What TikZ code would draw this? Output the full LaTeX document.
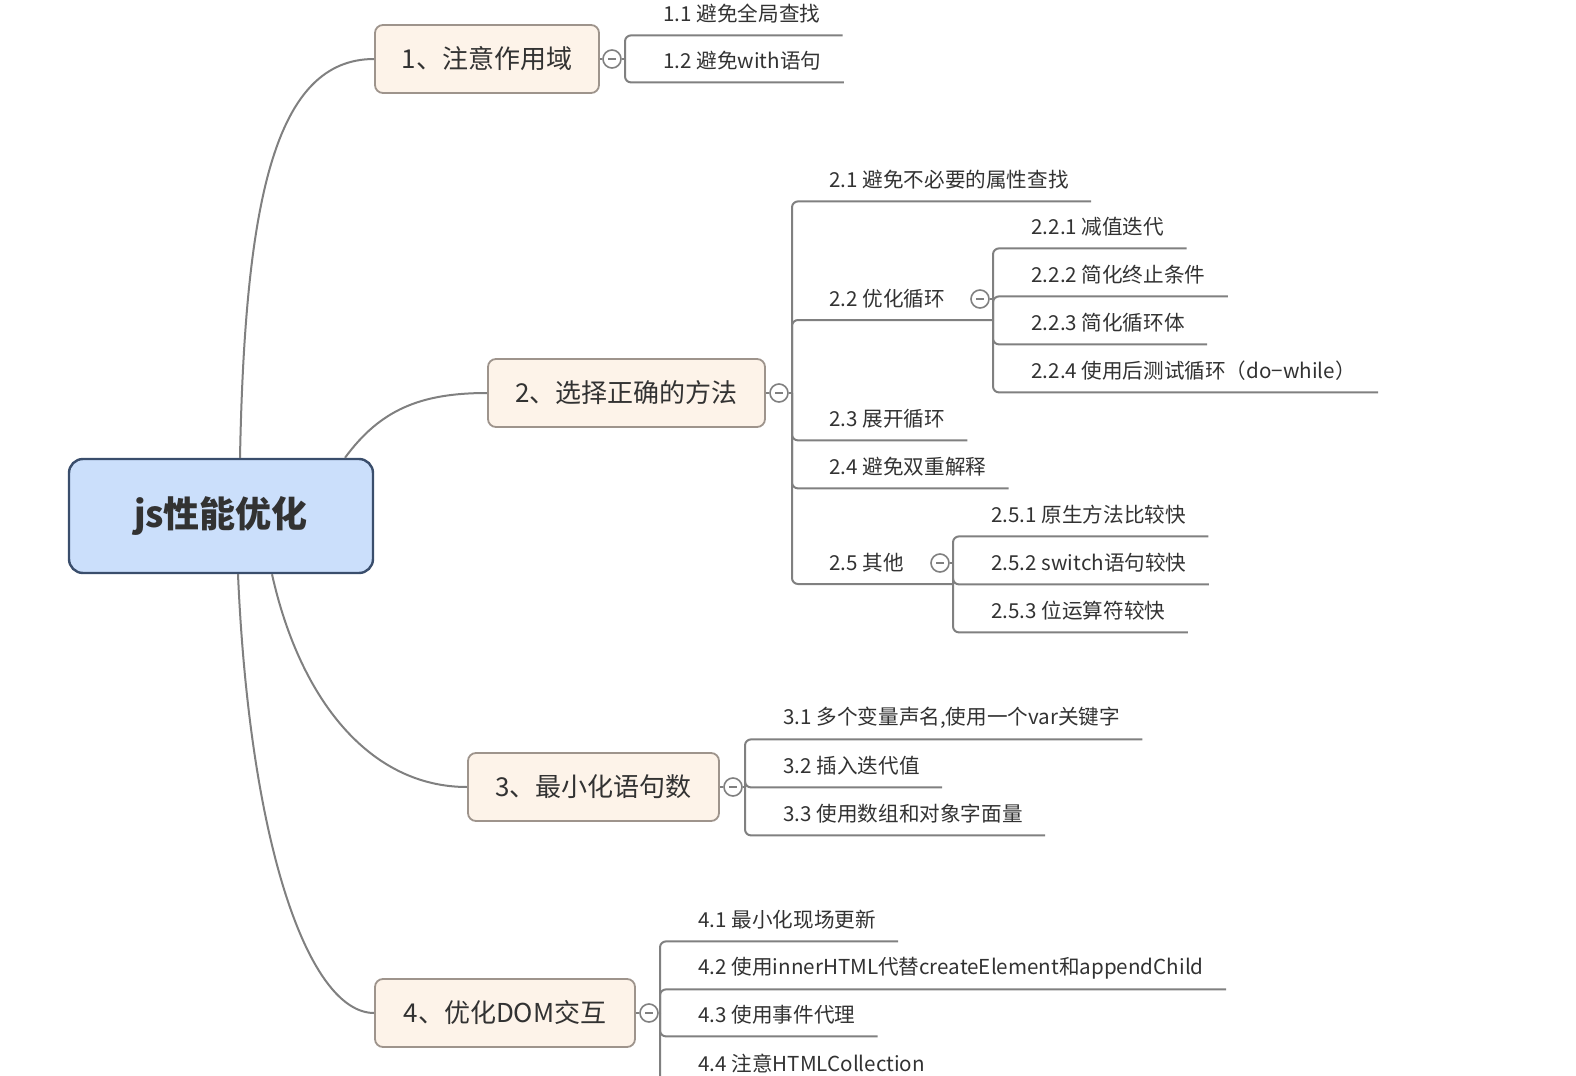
\documentclass[tikz,border=0pt]{standalone}
\usepackage{fontspec}
\setmainfont{Noto Sans CJK SC}
\usetikzlibrary{positioning, calc}
\definecolor{MapBlue}{RGB}{203, 223, 251}
\definecolor{MapNavy}{RGB}{58, 78, 108}
\definecolor{MapCream}{RGB}{253, 243, 233}
\definecolor{MapBorder}{RGB}{158, 148, 140}
\definecolor{MapLine}{RGB}{128, 128, 128}
\definecolor{MapText}{RGB}{50, 50, 50}
\tikzset{
  rootbox/.style={draw=MapNavy, line width=1.2pt, fill=MapBlue, rounded corners=7pt, minimum width=152pt, minimum height=57pt, text=MapText, font=\fontsize{18}{20}\selectfont\bfseries},
  topicbox/.style={draw=MapBorder, line width=0.9pt, fill=MapCream, rounded corners=4pt, minimum height=34pt, text=MapText, font=\fontsize{13}{15}\selectfont},
  leaf/.style={anchor=west, inner xsep=0pt, inner ysep=0pt, minimum height=21pt, text=MapText, font=\fontsize{10.3}{12}\selectfont},
  branch/.style={draw=MapLine, line width=1pt, rounded corners=3pt},
  fold/.style={circle, draw=MapLine, line width=0.8pt, fill=white, minimum size=9pt, inner sep=0pt,
    path picture={\draw[MapLine, line width=0.6pt] ([xshift=-1.8pt]path picture bounding box.center) -- ([xshift=1.8pt]path picture bounding box.center);}}
}

\begin{document}
\begin{tikzpicture}[x=0.5pt, y=-0.5pt]
    \useasboundingbox (0,0) rectangle (1576,1076);
    \clip (0,0) rectangle (1576,1076);

    \node[rootbox] (root) at (221,516) {js性能优化};
    \node[topicbox, minimum width=112pt] (t1) at (487,59) {1、注意作用域};
    \node[topicbox, minimum width=138.5pt] (t2) at (626.5,393) {2、选择正确的方法};
    \node[topicbox, minimum width=125.5pt] (t3) at (593.5,787) {3、最小化语句数};
    \node[topicbox, minimum width=130pt] (t4) at (505,1013) {4、优化DOM交互};

    \draw[branch] ([xshift=9.5pt]root.north) .. controls (245,200) and (275,59) .. (t1.west);
    \draw[branch] ([xshift=62pt]root.north) .. controls (380,410) and (420,393) .. (t2.west);
    \draw[branch] ([xshift=25.5pt]root.south) .. controls (300,700) and (370,787) .. (t3.west);
    \draw[branch] ([xshift=8.5pt]root.south) .. controls (250,850) and (310,1013) .. (t4.west);

    \node[fold] (c1) at (612,59) {};
    \coordinate (j1) at (625,59);
    \draw[branch] (t1.east) -- (c1.west) (c1.east) -- (j1);
    \node[leaf] (l11) at (663,14) {1.1 避免全局查找};
    \node[leaf] (l12) at (663,61) {1.2 避免with语句};
    \foreach \leafname in {l11,l12}
      \draw[branch] (j1) |- ([xshift=11pt]\leafname.south east);

    \node[fold] (c2) at (779,393) {};
    \coordinate (j2) at (792,393);
    \draw[branch] (t2.east) -- (c2.west) (c2.east) -- (j2);
    \node[leaf] (l21) at (829,180) {2.1 避免不必要的属性查找};
    \node[leaf] (l22) at (829,299) {2.2 优化循环};
    \node[leaf] (l23) at (829,419) {2.3 展开循环};
    \node[leaf] (l24) at (829,467) {2.4 避免双重解释};
    \node[leaf] (l25) at (829,563) {2.5 其他};
    \foreach \leafname in {l21,l23,l24}
      \draw[branch] (j2) |- ([xshift=11pt]\leafname.south east);

    \coordinate (j22) at (993,320);
    \draw[branch] (j2) |- (j22);
    \node[fold] (c22) at (980,299) {};
    \draw[branch] (c22.east) -- (c22.east -| j22);
    \node[leaf] (l221) at (1031,227) {2.2.1 减值迭代};
    \node[leaf] (l222) at (1031,275) {2.2.2 简化终止条件};
    \node[leaf] (l223) at (1031,323) {2.2.3 简化循环体};
    \node[leaf] (l224) at (1031,371) {2.2.4 使用后测试循环（do−while）};
    \foreach \leafname in {l221,l222,l223,l224}
      \draw[branch] (j22) |- ([xshift=11pt]\leafname.south east);

    \coordinate (j25) at (953,584);
    \draw[branch] (j2) |- (j25);
    \node[fold] (c25) at (940,563) {};
    \draw[branch] (c25.east) -- (c25.east -| j25);
    \node[leaf] (l251) at (991,515) {2.5.1 原生方法比较快};
    \node[leaf] (l252) at (991,563) {2.5.2 switch语句较快};
    \node[leaf] (l253) at (991,611) {2.5.3 位运算符较快};
    \foreach \leafname in {l251,l252,l253}
      \draw[branch] (j25) |- ([xshift=11pt]\leafname.south east);

    \node[fold] (c3) at (733,787) {};
    \coordinate (j3) at (745,787);
    \draw[branch] (t3.east) -- (c3.west) (c3.east) -- (j3);
    \node[leaf] (l31) at (783,718) {3.1 多个变量声名,使用一个var关键字};
    \node[leaf] (l32) at (783,766) {3.2 插入迭代值};
    \node[leaf] (l33) at (783,814) {3.3 使用数组和对象字面量};
    \foreach \leafname in {l31,l32,l33}
      \draw[branch] (j3) |- ([xshift=11pt]\leafname.south east);

    \node[fold] (c4) at (649,1013) {};
    \coordinate (j4) at (660,1013);
    \draw[branch] (t4.east) -- (c4.west) (c4.east) -- (j4);
    \node[leaf] (l41) at (698,920) {4.1 最小化现场更新};
    \node[leaf] (l42) at (698,968) {4.2 使用innerHTML代替createElement和appendChild};
    \node[leaf] (l43) at (698,1015) {4.3 使用事件代理};
    \node[leaf] (l44) at (698,1063) {4.4 注意HTMLCollection};
    \foreach \leafname in {l41,l42,l43,l44}
      \draw[branch] (j4) |- ([xshift=11pt]\leafname.south east);
  \end{tikzpicture}
\end{document}
